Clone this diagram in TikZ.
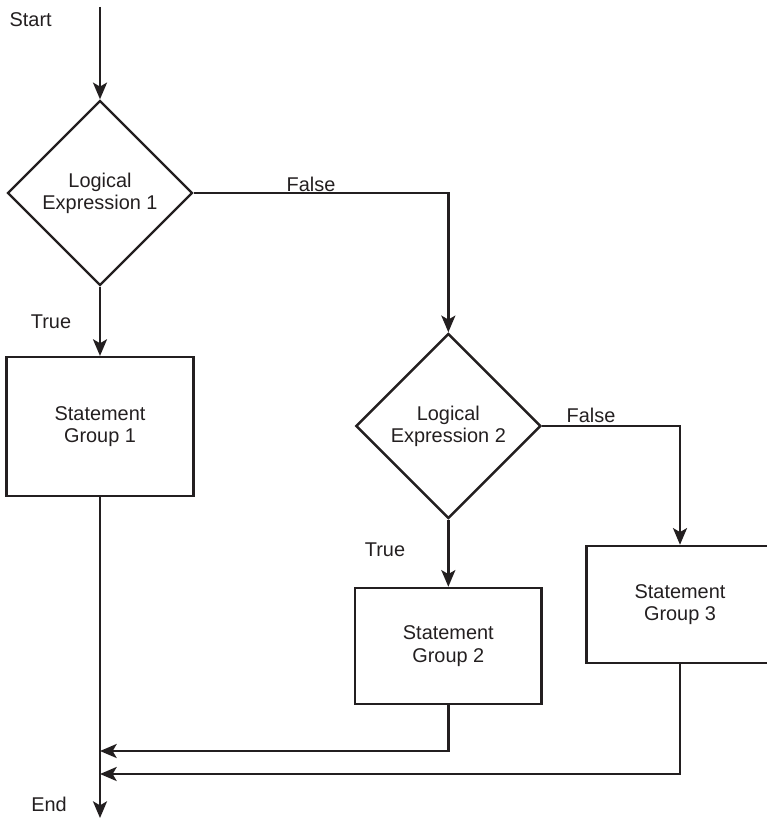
\documentclass[tikz,border=0pt]{standalone}
\usepackage{fontspec}
\setmainfont{Liberation Sans}
\usetikzlibrary{shapes.geometric,arrows.meta}
\definecolor{ink}{RGB}{35,31,32}

\begin{document}
\begin{tikzpicture}[
    >={Stealth[length=5mm,width=4.2mm,inset=1.2mm]},
    every node/.style={
        font=\fontsize{17}{19}\selectfont,
        text=ink
    },
    decision/.style={
        draw=ink,
        diamond,
        line width=2.1pt,
        align=center,
        inner sep=0pt,
        minimum width=5.55cm,
        minimum height=5.55cm
    },
    block/.style={
        draw=ink,
        line width=2.1pt,
        align=center,
        minimum width=5.6cm
    },
    tag/.style={
        inner sep=0pt
    },
    direct/.style={
        ->,
        draw=ink,
        line width=2.1pt
    }
]

\useasboundingbox (0,0) rectangle (22.98,-24.57);

% ============================================================
% START
% ============================================================

\node[tag] (start) at (0.92,-0.6) {Start};
\coordinate (top) at (3.0,-0.21);

% ============================================================
% FIRST TEST
% ============================================================

\node[decision] (cond1) at (3.0,-5.79)
{Logical\\Expression 1};

\node[block, minimum height=4.17cm] (grp1) at (3.0,-12.8)
{Statement\\Group 1};

\node[tag] (true1)  at (1.53,-9.66) {True};
\node[tag] (false1) at (9.33,-5.52) {False};

\draw[direct] (top) -- (cond1.north);
\draw[direct] (cond1.south) -- (grp1.north);

% ============================================================
% SECOND TEST
% ============================================================

\node[decision] (cond2) at (13.45,-12.78)
{Logical\\Expression 2};

\draw[direct] (cond1.east) -| (cond2.north);

\node[block, minimum height=3.48cm] (grp2) at (13.45,-19.38)
{Statement\\Group 2};

\node[block, minimum height=3.51cm] (grp3) at (20.4,-18.135)
{Statement\\Group 3};

\node[tag] (true2)  at (11.55,-16.5)  {True};
\node[tag] (false2) at (17.73,-12.45) {False};

\draw[direct] (cond2.south) -- (grp2.north);
\draw[direct] (cond2.east) -| (grp3.north);

% ============================================================
% JOIN AND END
% ============================================================

\coordinate (join2)  at (3.0,-22.53);
\coordinate (join3)  at (3.0,-23.22);
\coordinate (finish) at (3.0,-24.54);

\draw[direct] (grp2.south) |- (join2);
\draw[direct] (grp3.south) |- (join3);
\draw[direct] (grp1.south) -- (finish);

\node[tag] (end) at (1.47,-24.12) {End};

\end{tikzpicture}
\end{document}
